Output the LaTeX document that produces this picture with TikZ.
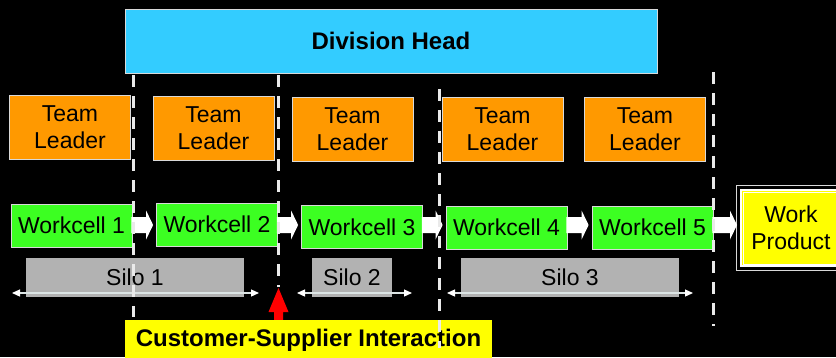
\documentclass[tikz,border=0pt]{standalone}
\usepackage{fontspec}
\setmainfont{Liberation Sans}
\usetikzlibrary{arrows.meta,calc}

\definecolor{headblue}{HTML}{33CCFF}
\definecolor{leadorange}{HTML}{FF9900}
\definecolor{cellgreen}{HTML}{3CFF22}
\definecolor{silogray}{HTML}{B2B2B2}
\definecolor{edgegray}{HTML}{D9D9D9}
\definecolor{divider}{HTML}{EAEAEA}
\definecolor{labelyellow}{HTML}{FFFF00}
\definecolor{siloline}{HTML}{DCE4E4}
\definecolor{alertred}{HTML}{FF0000}

% white block arrow from one workcell to the next
\newcommand\cellarrow[2]{%
  \fill[flow] let \p1=(#1.east), \p2=(#2.west), \p3=(0,225) in
    (\x1-1pt,\y3+8pt) -- (\x2-10pt,\y3+8pt) -- (\x2-10pt,\y3+14.5pt) --
    (\x2-3pt,\y3) --
    (\x2-10pt,\y3-14.5pt) -- (\x2-10pt,\y3-8pt) -- (\x1-1pt,\y3-8pt) -- cycle;}

\begin{document}
\begin{tikzpicture}[x=1pt,y=-1pt,
  txt/.style={font=\fontsize{23}{27}\selectfont, text=black, align=center},
  boldtxt/.style={font=\fontsize{24}{27}\selectfont\bfseries, text=black, align=center},
  box/.style={txt, rectangle, inner sep=0pt, draw=edgegray, line width=0.8pt},
  leader/.style={box, fill=leadorange, minimum width=121pt, minimum height=64pt},
  cell/.style={box, fill=cellgreen, minimum width=121pt, minimum height=43pt},
  silo/.style={txt, rectangle, inner sep=0pt, fill=silogray, minimum height=39pt, text=black},
  divline/.style={draw=divider, line width=3pt, dash pattern=on 11.5pt off 9.5pt},
  flow/.style={fill=white},
  span/.style={draw=siloline, line width=1.2pt,
    {Triangle[length=8pt,width=7pt,color=white]}-{Triangle[length=8pt,width=7pt,color=white]}},
]
\useasboundingbox (0,0) rectangle (836,357);
\clip (0,0) rectangle (836,357);
\fill[black] (0,0) rectangle (836,357);

% top of the hierarchy
\node[boldtxt, rectangle, inner sep=0pt, draw=edgegray, line width=0.8pt, fill=headblue,
      minimum width=532pt, minimum height=64pt] (head) at (391,41) {Division Head};

% team leaders
\node[leader] (tl1) at (70,127)    {Team\\Leader};
\node[leader] (tl2) at (213.5,128) {Team\\Leader};
\node[leader] (tl3) at (352.5,129) {Team\\Leader};
\node[leader] (tl4) at (502.5,129) {Team\\Leader};
\node[leader] (tl5) at (645,129)   {Team\\Leader};

% workcells
\node[cell] (wc1) at (71.5,225.5) {Workcell 1};
\node[cell] (wc2) at (217,224.5)  {Workcell 2};
\node[cell] (wc3) at (362,227)    {Workcell 3};
\node[cell] (wc4) at (506.5,227.5){Workcell 4};
\node[cell] (wc5) at (652.5,227.5){Workcell 5};

% work product with its framed border
\draw[edgegray, line width=0.8pt] (736.5,185.5) rectangle (845.5,270);
\node[txt, rectangle, inner sep=0pt, fill=labelyellow, draw=white, line width=2pt,
      minimum width=100pt, minimum height=76pt] (wp) at (791,228) {Work\\Product};
\draw[white, line width=0.8pt] ($(wp.north west)+(3,3)$) rectangle ($(wp.south east)+(-3,-3)$);

% flow between workcells
\cellarrow{wc1}{wc2}
\cellarrow{wc2}{wc3}
\cellarrow{wc3}{wc4}
\cellarrow{wc4}{wc5}
\cellarrow{wc5}{wp}

% silos
\node[silo, minimum width=218pt] (silo1) at (135,277.5) {Silo 1};
\node[silo, minimum width=80pt]  (silo2) at (352,277.5) {Silo 2};
\node[silo, minimum width=218pt] (silo3) at (570,277.5) {Silo 3};

\coordinate (s1a) at (12,293);  \coordinate (s1b) at (259,293);
\coordinate (s2a) at (297,293); \coordinate (s2b) at (412,293);
\coordinate (s3a) at (447,293); \coordinate (s3b) at (693,293);
\draw[span] (s1a) -- (s1b);
\draw[span] (s2a) -- (s2b);
\draw[span] (s3a) -- (s3b);

% interaction marker
\coordinate (redtip) at (278.5,288);
\fill[alertred] (redtip) -- ($(redtip)+(10,24)$) -- ($(redtip)+(4.5,24)$) --
  ($(redtip)+(4.5,36)$) -- ($(redtip)+(-4.5,36)$) -- ($(redtip)+(-4.5,24)$) --
  ($(redtip)+(-10,24)$) -- cycle;
\node[boldtxt, rectangle, inner sep=0pt, fill=labelyellow,
      minimum width=367pt, minimum height=40pt] (cs) at (308.5,340) {Customer-Supplier Interaction};

% silo boundaries
\coordinate (d1a) at (133,75);   \coordinate (d1b) at (133,317);
\coordinate (d2a) at (278.5,75); \coordinate (d2b) at (278.5,287);
\coordinate (d3a) at (439,89);   \coordinate (d3b) at (439,348);
\coordinate (d4a) at (713,72);   \coordinate (d4b) at (713,326);
\draw[divline] (d1a) -- (d1b);
\draw[divline] (d2a) -- (d2b);
\draw[divline] (d3a) -- (d3b);
\draw[divline] (d4a) -- (d4b);
\end{tikzpicture}
\end{document}
